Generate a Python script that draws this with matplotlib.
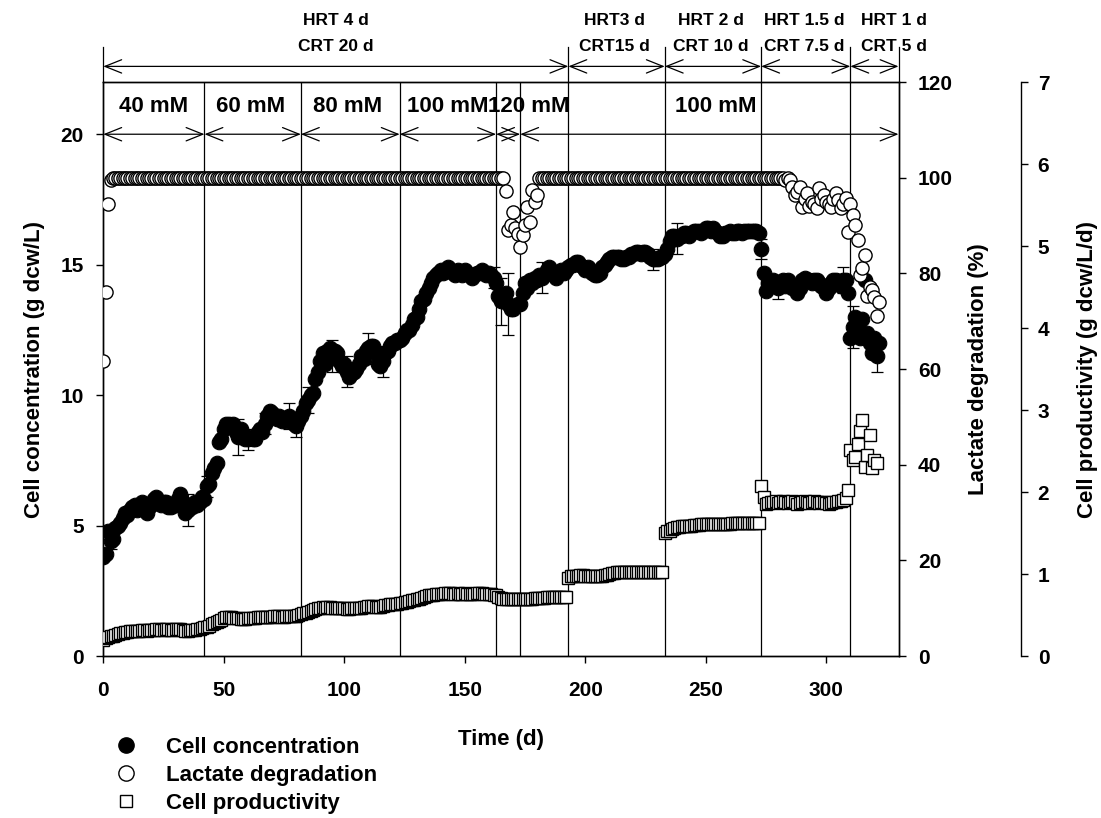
import numpy as np
import matplotlib
matplotlib.use('Agg')
import matplotlib.pyplot as plt
from matplotlib.lines import Line2D

plt.rcParams['font.family'] = ['Liberation Sans', 'DejaVu Sans']
plt.rcParams['font.weight'] = 'bold'
plt.rcParams['axes.labelweight'] = 'bold'

# Cell concentration (g dcw/L), one reading per day from day 0
cell_conc = [
    3.8, 3.9, 4.8, 4.4, 4.5, 4.9, 5.0, 5.1, 5.3, 5.5,
    5.4, 5.6, 5.7, 5.8, 5.6, 5.7, 5.9, 5.8, 5.5, 5.7,
    5.8, 6.0, 6.1, 5.9, 5.8, 5.9, 5.9, 5.7, 5.7, 5.8,
    5.8, 6.0, 6.2, 5.9, 5.5, 5.6, 5.8, 5.7, 5.9, 5.8,
    5.9, 6.1, 6.0, 6.5, 6.6, 7.0, 7.2, 7.4, 8.2, 8.3,
    8.7, 8.9, 8.9, 8.8, 8.9, 8.6, 8.4, 8.7, 8.5, 8.3,
    8.3, 8.4, 8.3, 8.3, 8.6, 8.7, 8.6, 8.9, 9.2, 9.4,
    9.3, 9.2, 9.1, 9.2, 9.0, 9.1, 9.0, 9.2, 9.1, 8.9,
    8.8, 9.0, 9.2, 9.4, 9.7, 9.8, 10.0, 10.1, 10.6, 10.9,
    11.3, 11.6, 11.2, 11.7, 11.8, 11.5, 11.7, 11.6, 11.3, 11.1,
    11.2, 10.9, 10.7, 10.8, 10.9, 11.0, 11.2, 11.5, 11.4, 11.7,
    11.8, 11.9, 11.9, 11.6, 11.2, 11.1, 11.3, 11.6, 11.7, 11.9,
    12.0, 12.0, 12.1, 12.1, 12.2, 12.4, 12.5, 12.5, 12.7, 12.9,
    13.0, 13.3, 13.6, 13.7, 13.9, 14.1, 14.3, 14.5, 14.6, 14.7,
    14.8, 14.7, 14.8, 14.9, 14.8, 14.7, 14.6, 14.8, 14.7, 14.6,
    14.8, 14.7, 14.6, 14.5, 14.6, 14.7, 14.7, 14.8, 14.7, 14.6,
    14.7, 14.6, 14.5, 14.3, 13.8, 13.6, 13.7, 13.9, 13.5, 13.3,
    13.3, 13.4, 13.5, 13.5, 13.9, 14.3, 14.1, 14.4, 14.3, 14.5,
    14.4, 14.6, 14.5, 14.6, 14.8, 14.9, 14.7, 14.6, 14.5, 14.7,
    14.8, 14.7, 14.8, 14.9, 15.0, 15.0, 15.1, 15.1, 15.0, 14.9,
    14.8, 14.9, 14.8, 14.7, 14.6, 14.6, 14.7, 14.9, 15.0, 15.1,
    15.2, 15.3, 15.3, 15.3, 15.3, 15.2, 15.2, 15.3, 15.3, 15.4,
    15.4, 15.5, 15.5, 15.4, 15.5, 15.5, 15.4, 15.3, 15.2, 15.2,
    15.2, 15.3, 15.3, 15.4, 15.6, 15.9, 16.1, 16.1, 16.0, 16.1,
    16.1, 16.2, 16.2, 16.1, 16.2, 16.3, 16.3, 16.3, 16.2, 16.3,
    16.4, 16.4, 16.3, 16.4, 16.3, 16.2, 16.1, 16.1, 16.2, 16.2,
    16.3, 16.2, 16.2, 16.3, 16.3, 16.2, 16.3, 16.3, 16.3, 16.3,
    16.3, 16.3, 16.2, 15.6, 14.7, 14.0, 14.3, 14.2, 14.4, 14.2,
    14.1, 14.3, 14.4, 14.2, 14.4, 14.2, 14.1, 14.2, 13.9, 14.1,
    14.4, 14.5, 14.4, 14.4, 14.3, 14.4, 14.4, 14.3, 14.2, 14.1,
    13.9, 14.1, 14.3, 14.4, 14.4, 14.3, 14.2, 14.4, 14.4, 13.9,
    12.2, 12.6, 13.0, 12.6, 12.2, 12.9, 14.4, 12.4, 12.0, 11.6,
    12.2, 11.5, 12.0,
]

# days with visible error bars on cell concentration, and their half-widths
err_days = [3, 35, 43, 56, 60, 67, 77, 80, 85, 95, 101, 110, 116,
            162, 165, 168, 182, 228, 238, 273, 280, 307, 311, 321]
err_vals = [0.3, 0.6, 0.4, 0.7, 0.4, 0.4, 0.5, 0.4, 0.5, 0.6, 0.6, 0.6, 0.6,
            0.4, 0.9, 1.2, 0.6, 0.4, 0.6, 0.4, 0.4, 0.5, 0.8, 0.6]

# Lactate degradation (%), one reading per day from day 0
lactate = [
    61.6, 76.2, 94.4, 99.5, 100, 100, 100, 100, 100, 100,
    100, 100, 100, 100, 100, 100, 100, 100, 100, 100,
    100, 100, 100, 100, 100, 100, 100, 100, 100, 100,
    100, 100, 100, 100, 100, 100, 100, 100, 100, 100,
    100, 100, 100, 100, 100, 100, 100, 100, 100, 100,
    100, 100, 100, 100, 100, 100, 100, 100, 100, 100,
    100, 100, 100, 100, 100, 100, 100, 100, 100, 100,
    100, 100, 100, 100, 100, 100, 100, 100, 100, 100,
    100, 100, 100, 100, 100, 100, 100, 100, 100, 100,
    100, 100, 100, 100, 100, 100, 100, 100, 100, 100,
    100, 100, 100, 100, 100, 100, 100, 100, 100, 100,
    100, 100, 100, 100, 100, 100, 100, 100, 100, 100,
    100, 100, 100, 100, 100, 100, 100, 100, 100, 100,
    100, 100, 100, 100, 100, 100, 100, 100, 100, 100,
    100, 100, 100, 100, 100, 100, 100, 100, 100, 100,
    100, 100, 100, 100, 100, 100, 100, 100, 100, 100,
    100, 100, 100, 100, 100, 100, 100, 97.3, 89.1, 90.1,
    92.9, 89.5, 88.3, 85.6, 88.0, 90.1, 93.9, 90.8, 97.4, 95.0,
    96.4, 100, 100, 100, 100, 100, 100, 100, 100, 100,
    100, 100, 100, 100, 100, 100, 100, 100, 100, 100,
    100, 100, 100, 100, 100, 100, 100, 100, 100, 100,
    100, 100, 100, 100, 100, 100, 100, 100, 100, 100,
    100, 100, 100, 100, 100, 100, 100, 100, 100, 100,
    100, 100, 100, 100, 100, 100, 100, 100, 100, 100,
    100, 100, 100, 100, 100, 100, 100, 100, 100, 100,
    100, 100, 100, 100, 100, 100, 100, 100, 100, 100,
    100, 100, 100, 100, 100, 100, 100, 100, 100, 100,
    100, 100, 100, 100, 100, 100, 100, 100, 100, 100,
    100, 100, 100, 99.5, 100, 99.5, 98.1, 96.4, 97.0, 98.1,
    93.9, 95.5, 96.7, 94.0, 95.0, 94.5, 93.6, 97.8, 95.5, 96.4,
    95.0, 94.5, 93.9, 95.5, 96.7, 95.3, 93.6, 94.5, 95.8, 88.7,
    94.6, 92.2, 90.1, 87.0, 79.7, 81.1, 83.8, 75.3, 77.2, 76.5,
    75.0, 71.0, 74.1,
]

# Cell productivity (g dcw/L/d), one reading per day from day 0
productivity = [
    0.20, 0.22, 0.23, 0.25, 0.25, 0.26, 0.27, 0.28, 0.28, 0.29,
    0.29, 0.30, 0.30, 0.31, 0.31, 0.31, 0.32, 0.32, 0.31, 0.32,
    0.32, 0.32, 0.33, 0.33, 0.32, 0.32, 0.33, 0.33, 0.32, 0.32,
    0.33, 0.33, 0.33, 0.32, 0.31, 0.31, 0.32, 0.32, 0.32, 0.33,
    0.33, 0.34, 0.35, 0.36, 0.37, 0.39, 0.40, 0.42, 0.43, 0.44,
    0.46, 0.47, 0.47, 0.47, 0.46, 0.46, 0.46, 0.45, 0.45, 0.45,
    0.46, 0.46, 0.46, 0.46, 0.47, 0.47, 0.48, 0.48, 0.48, 0.48,
    0.48, 0.49, 0.49, 0.49, 0.48, 0.48, 0.49, 0.49, 0.49, 0.49,
    0.49, 0.50, 0.51, 0.52, 0.53, 0.54, 0.55, 0.56, 0.57, 0.58,
    0.59, 0.60, 0.59, 0.60, 0.60, 0.59, 0.59, 0.59, 0.58, 0.58,
    0.58, 0.57, 0.57, 0.58, 0.58, 0.58, 0.59, 0.59, 0.60, 0.60,
    0.61, 0.61, 0.61, 0.60, 0.60, 0.60, 0.61, 0.62, 0.62, 0.63,
    0.63, 0.64, 0.64, 0.65, 0.65, 0.66, 0.66, 0.67, 0.68, 0.68,
    0.69, 0.70, 0.71, 0.72, 0.73, 0.74, 0.74, 0.75, 0.76, 0.76,
    0.76, 0.76, 0.77, 0.77, 0.77, 0.76, 0.76, 0.77, 0.76, 0.76,
    0.77, 0.76, 0.76, 0.76, 0.76, 0.77, 0.77, 0.77, 0.76, 0.76,
    0.76, 0.76, 0.75, 0.74, 0.72, 0.71, 0.70, 0.70, 0.69, 0.69,
    0.69, 0.69, 0.69, 0.69, 0.69, 0.70, 0.70, 0.70, 0.70, 0.71,
    0.71, 0.71, 0.71, 0.71, 0.72, 0.72, 0.72, 0.72, 0.72, 0.72,
    0.72, 0.72, 0.72, 0.95, 0.97, 0.98, 0.98, 0.98, 0.99, 0.99,
    0.98, 0.98, 0.98, 0.97, 0.97, 0.97, 0.98, 0.98, 0.99, 0.99,
    1.00, 1.01, 1.01, 1.02, 1.02, 1.02, 1.03, 1.03, 1.03, 1.03,
    1.03, 1.03, 1.03, 1.03, 1.03, 1.03, 1.02, 1.02, 1.02, 1.02,
    1.02, 1.02, 1.03, 1.50, 1.52, 1.53, 1.55, 1.56, 1.57, 1.57,
    1.58, 1.58, 1.59, 1.59, 1.59, 1.60, 1.60, 1.60, 1.61, 1.61,
    1.61, 1.61, 1.61, 1.61, 1.61, 1.61, 1.61, 1.61, 1.61, 1.61,
    1.61, 1.62, 1.62, 1.62, 1.62, 1.62, 1.62, 1.62, 1.62, 1.62,
    1.62, 1.62, 1.62, 2.07, 1.94, 1.86, 1.87, 1.88, 1.88, 1.89,
    1.87, 1.88, 1.89, 1.88, 1.87, 1.88, 1.89, 1.88, 1.86, 1.87,
    1.88, 1.89, 1.88, 1.87, 1.88, 1.89, 1.88, 1.87, 1.88, 1.88,
    1.87, 1.86, 1.87, 1.88, 1.88, 1.89, 1.89, 1.90, 1.93, 2.03,
    2.51, 2.39, 2.43, 2.59, 2.74, 2.88, 2.31, 2.45, 2.70, 2.29,
    2.39, 2.35,
]

# operating periods
feed_edges = [0, 42, 82, 123, 163, 173, 330]
feed_labels = ['40 mM', '60 mM', '80 mM', '100 mM', '120 mM', '100 mM']
feed_label_x = [21, 61, 101.5, 143, 176.5, 254]

hrt_edges = [0, 193, 233, 273, 310, 330]
hrt_labels = ['HRT 4 d', 'HRT3 d', 'HRT 2 d', 'HRT 1.5 d', 'HRT 1 d']
crt_labels = ['CRT 20 d', 'CRT15 d', 'CRT 10 d', 'CRT 7.5 d', 'CRT 5 d']
hrt_label_x = [96.5, 212, 252, 291, 328]

conc = np.array(cell_conc)
days_conc = np.arange(len(cell_conc))
days_lac = np.arange(len(lactate))
days_prod = np.arange(len(productivity))

fig = plt.figure(figsize=(11.01, 8.18), dpi=100)
ax = fig.add_axes([0.0938, 0.198, 0.7223, 0.7017])
ax.set_xlim(0, 330)
ax.set_ylim(0, 22)

# period boundaries
for d in sorted(set(feed_edges[1:-1] + hrt_edges[1:-1])):
    ax.axvline(d, color='black', lw=0.9, zorder=1)

ax.errorbar(err_days, conc[err_days], yerr=err_vals, fmt='none', ecolor='black',
            elinewidth=0.9, capsize=4.5, capthick=0.9, zorder=2)
ax.plot(days_conc, conc, 'o', color='black', ms=10.5, mec='black', mew=0.8, zorder=3)

arrow = dict(arrowstyle='<->,head_length=1.2,head_width=0.48', lw=0.9, color='black',
             shrinkA=0, shrinkB=0, mutation_scale=10)

for a, b in zip(feed_edges[:-1], feed_edges[1:]):
    ax.annotate('', xy=(b, 20), xytext=(a, 20), arrowprops=arrow, annotation_clip=False)
for x, lab in zip(feed_label_x, feed_labels):
    ax.text(x, 21.06, lab, ha='center', va='center', fontsize=16)

for a, b in zip(hrt_edges[:-1], hrt_edges[1:]):
    ax.annotate('', xy=(b, 22.6), xytext=(a, 22.6), arrowprops=arrow, annotation_clip=False)
for d in hrt_edges:
    ax.plot([d, d], [22, 23.35], color='black', lw=0.9, clip_on=False)
for x, h, c in zip(hrt_label_x, hrt_labels, crt_labels):
    ax.text(x, 24.36, h, ha='center', va='center', fontsize=12.5, clip_on=False)
    ax.text(x, 23.38, c, ha='center', va='center', fontsize=12.5, clip_on=False)

ax.set_xticks([0, 50, 100, 150, 200, 250, 300])
ax.set_yticks([0, 5, 10, 15, 20])
ax.tick_params(direction='out', length=5, width=1, labelsize=15, pad=9)
ax.tick_params(axis='x', pad=13)
ax.set_xlabel('Time (d)', fontsize=16)
ax.xaxis.set_label_coords(0.5, -0.127)
ax.set_ylabel('Cell concentration (g dcw/L)', fontsize=16)
ax.yaxis.set_label_coords(-0.073, 0.5)

# lactate axis
ax2 = ax.twinx()
ax2.set_ylim(0, 120)
ax2.set_yticks([0, 20, 40, 60, 80, 100, 120])
ax2.plot(days_lac, lactate, 'o', mfc='white', mec='black', ms=9.5, mew=1, zorder=3)
ax2.tick_params(direction='out', length=5, width=1, labelsize=15, pad=9)
ax2.set_ylabel('Lactate degradation (%)', fontsize=16)
ax2.yaxis.set_label_coords(1.087, 0.5)

# productivity axis
ax3 = ax.twinx()
ax3.spines['right'].set_position(('axes', 1.154))
for s in ['top', 'left', 'bottom']:
    ax3.spines[s].set_visible(False)
ax3.set_ylim(0, 7)
ax3.set_yticks(range(8))
ax3.plot(days_prod, productivity, 's', mfc='white', mec='black', ms=8.5, mew=1, zorder=3)
ax3.tick_params(direction='out', length=5, width=1, labelsize=15, pad=7)
ax3.set_ylabel('Cell productivity (g dcw/L/d)', fontsize=16)
ax3.yaxis.set_label_coords(1.225, 0.5)

for a in (ax, ax2, ax3):
    for s in a.spines.values():
        s.set_linewidth(1)

handles = [
    Line2D([], [], ls='none', marker='o', color='black', ms=11),
    Line2D([], [], ls='none', marker='o', mfc='white', mec='black', ms=11, mew=1),
    Line2D([], [], ls='none', marker='s', mfc='white', mec='black', ms=9, mew=1),
]
fig.legend(handles, ['Cell concentration', 'Lactate degradation', 'Cell productivity'],
           loc='upper left', bbox_to_anchor=(0.1045, 0.0995), frameon=False,
           fontsize=16, handlelength=1.0, handletextpad=1.3, labelspacing=0.32,
           borderpad=0, borderaxespad=0)

fig.savefig('out.png', dpi=100)
